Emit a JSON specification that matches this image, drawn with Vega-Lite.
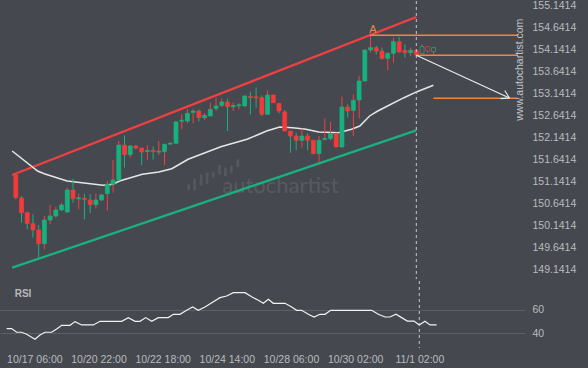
{
  "$schema": "https://vega.github.io/schema/vega-lite/v6.json",
  "background": "#45484e",
  "padding": {"left": 0, "top": 0, "right": 20, "bottom": 20},
  "spacing": 0,
  "config": {
    "view": {"stroke": null},
    "font": "Liberation Sans",
    "axis": {"labelColor": "#b9bcbf", "labelFont": "Liberation Sans", "labelFontSize": 10.5, "domain": false, "ticks": false, "labelOverlap": false}
  },
  "datasets": {
    "candles": [
      {"i":0,"o":151.288,"h":151.303,"l":150.734,"c":150.772,"k":"d"},
      {"i":1,"o":150.764,"h":150.810,"l":150.203,"c":150.430,"k":"d"},
      {"i":2,"o":150.430,"h":150.453,"l":150.051,"c":150.180,"k":"d"},
      {"i":3,"o":150.180,"h":150.392,"l":149.861,"c":150.036,"k":"d"},
      {"i":4,"o":150.036,"h":150.149,"l":149.406,"c":149.725,"k":"d"},
      {"i":5,"o":149.725,"h":150.354,"l":149.596,"c":150.263,"k":"u"},
      {"i":6,"o":150.263,"h":150.605,"l":150.165,"c":150.354,"k":"u"},
      {"i":7,"o":150.354,"h":150.559,"l":150.316,"c":150.491,"k":"u"},
      {"i":8,"o":150.491,"h":150.658,"l":150.468,"c":150.605,"k":"u"},
      {"i":9,"o":150.445,"h":150.999,"l":150.430,"c":150.946,"k":"u"},
      {"i":10,"o":150.946,"h":151.204,"l":150.658,"c":150.749,"k":"d"},
      {"i":11,"o":150.745,"h":150.863,"l":150.506,"c":150.768,"k":"u"},
      {"i":12,"o":150.756,"h":150.863,"l":150.278,"c":150.726,"k":"d"},
      {"i":13,"o":150.719,"h":150.848,"l":150.415,"c":150.612,"k":"d"},
      {"i":14,"o":150.612,"h":150.863,"l":150.529,"c":150.719,"k":"u"},
      {"i":15,"o":150.719,"h":150.863,"l":150.696,"c":150.832,"k":"u"},
      {"i":16,"o":150.863,"h":151.151,"l":150.483,"c":151.075,"k":"u"},
      {"i":17,"o":151.075,"h":151.629,"l":150.885,"c":151.174,"k":"u"},
      {"i":18,"o":151.174,"h":152.062,"l":151.151,"c":151.970,"k":"u"},
      {"i":19,"o":151.970,"h":152.191,"l":151.455,"c":151.750,"k":"d"},
      {"i":20,"o":151.750,"h":151.970,"l":151.682,"c":151.948,"k":"u"},
      {"i":21,"o":151.948,"h":151.970,"l":151.872,"c":151.902,"k":"d"},
      {"i":22,"o":151.902,"h":151.902,"l":151.508,"c":151.811,"k":"d"},
      {"i":23,"o":151.822,"h":151.970,"l":151.637,"c":151.846,"k":"u"},
      {"i":24,"o":151.849,"h":151.933,"l":151.637,"c":151.819,"k":"d"},
      {"i":25,"o":151.808,"h":152.062,"l":151.743,"c":151.830,"k":"u"},
      {"i":26,"o":151.819,"h":152.001,"l":151.508,"c":151.986,"k":"u"},
      {"i":27,"o":151.990,"h":152.031,"l":151.986,"c":152.012,"k":"u"},
      {"i":28,"o":152.008,"h":152.517,"l":152.008,"c":152.494,"k":"u"},
      {"i":29,"o":152.512,"h":152.669,"l":152.327,"c":152.535,"k":"u"},
      {"i":30,"o":152.517,"h":152.782,"l":152.464,"c":152.691,"k":"u"},
      {"i":31,"o":152.714,"h":152.782,"l":152.464,"c":152.744,"k":"u"},
      {"i":32,"o":152.744,"h":152.782,"l":152.502,"c":152.593,"k":"d"},
      {"i":33,"o":152.593,"h":152.691,"l":152.540,"c":152.646,"k":"u"},
      {"i":34,"o":152.631,"h":152.934,"l":152.631,"c":152.782,"k":"u"},
      {"i":35,"o":152.805,"h":153.048,"l":152.744,"c":152.858,"k":"u"},
      {"i":36,"o":152.873,"h":153.033,"l":152.836,"c":152.949,"k":"u"},
      {"i":37,"o":152.949,"h":153.025,"l":152.289,"c":152.843,"k":"d"},
      {"i":38,"o":152.843,"h":152.934,"l":152.744,"c":152.873,"k":"u"},
      {"i":39,"o":152.862,"h":152.919,"l":152.782,"c":152.885,"k":"u"},
      {"i":40,"o":152.858,"h":153.101,"l":152.836,"c":153.086,"k":"u"},
      {"i":41,"o":153.075,"h":153.185,"l":152.669,"c":153.052,"k":"d"},
      {"i":42,"o":153.067,"h":153.276,"l":152.820,"c":153.044,"k":"d"},
      {"i":43,"o":153.048,"h":153.101,"l":152.631,"c":152.669,"k":"d"},
      {"i":44,"o":152.669,"h":153.215,"l":152.653,"c":153.109,"k":"u"},
      {"i":45,"o":153.109,"h":153.115,"l":152.925,"c":152.934,"k":"d"},
      {"i":46,"o":152.919,"h":152.919,"l":152.691,"c":152.744,"k":"d"},
      {"i":47,"o":152.722,"h":152.767,"l":152.289,"c":152.289,"k":"d"},
      {"i":48,"o":152.289,"h":152.289,"l":151.796,"c":152.175,"k":"d"},
      {"i":49,"o":152.175,"h":152.251,"l":151.849,"c":152.077,"k":"d"},
      {"i":50,"o":152.077,"h":152.342,"l":151.910,"c":152.175,"k":"u"},
      {"i":51,"o":152.175,"h":152.236,"l":151.849,"c":152.077,"k":"d"},
      {"i":52,"o":152.077,"h":152.077,"l":151.758,"c":151.773,"k":"d"},
      {"i":53,"o":151.773,"h":152.175,"l":151.568,"c":152.077,"k":"u"},
      {"i":54,"o":152.096,"h":152.570,"l":152.077,"c":152.118,"k":"u"},
      {"i":55,"o":152.115,"h":152.494,"l":152.077,"c":152.229,"k":"u"},
      {"i":56,"o":152.229,"h":152.251,"l":151.925,"c":151.925,"k":"d"},
      {"i":57,"o":151.925,"h":153.071,"l":151.910,"c":152.836,"k":"u"},
      {"i":58,"o":152.836,"h":152.896,"l":152.593,"c":152.744,"k":"d"},
      {"i":59,"o":152.760,"h":153.124,"l":152.175,"c":152.987,"k":"u"},
      {"i":60,"o":152.995,"h":153.541,"l":152.578,"c":153.427,"k":"u"},
      {"i":61,"o":153.427,"h":154.140,"l":153.420,"c":154.133,"k":"u"},
      {"i":62,"o":154.133,"h":154.467,"l":154.072,"c":154.186,"k":"u"},
      {"i":63,"o":154.186,"h":154.224,"l":154.034,"c":154.110,"k":"d"},
      {"i":64,"o":154.110,"h":154.186,"l":153.921,"c":153.936,"k":"d"},
      {"i":65,"o":153.943,"h":154.072,"l":153.670,"c":154.057,"k":"u"},
      {"i":66,"o":154.057,"h":154.414,"l":153.845,"c":154.323,"k":"u"},
      {"i":67,"o":154.323,"h":154.429,"l":154.072,"c":154.088,"k":"d"},
      {"i":68,"o":154.125,"h":154.262,"l":153.959,"c":154.072,"k":"d"},
      {"i":69,"o":154.072,"h":154.186,"l":153.996,"c":154.125,"k":"u"},
      {"i":70,"o":154.125,"h":154.125,"l":153.996,"c":154.019,"k":"d"},
      {"i":71,"o":154.057,"h":154.262,"l":154.057,"c":154.209,"k":"uh"},
      {"i":72,"o":154.209,"h":154.224,"l":154.072,"c":154.110,"k":"dh"},
      {"i":73,"o":154.095,"h":154.201,"l":154.034,"c":154.186,"k":"uh"}
    ],
    "logo": [
      {"i":30.23,"a":150.946,"b":151.076},{"i":31.25,"a":150.946,"b":151.203},{"i":32.4,"a":151.037,"b":151.303},
      {"i":33.43,"a":151.089,"b":151.34},{"i":34.51,"a":151.226,"b":151.362},{"i":35.61,"a":151.303,"b":151.515},
      {"i":36.64,"a":151.264,"b":151.454},{"i":37.67,"a":151.339,"b":151.492},{"i":38.8,"a":151.469,"b":151.645}
    ],
    "ma": [
      {"i":-0.63,"p":151.834},{"i":3.82,"p":151.379},{"i":4.97,"p":151.317},{"i":8.97,"p":151.151},
      {"i":15.26,"p":151.053},{"i":16.97,"p":151.076},{"i":18.12,"p":151.151},{"i":22.12,"p":151.303},
      {"i":24.98,"p":151.356},{"i":27.26,"p":151.431},{"i":30.12,"p":151.645},{"i":32.4,"p":151.759},
      {"i":35.83,"p":151.932},{"i":40.41,"p":152.1},{"i":43.84,"p":152.289},{"i":46.12,"p":152.38},
      {"i":48.4,"p":152.364},{"i":50.7,"p":152.328},{"i":52.97,"p":152.266},{"i":56.4,"p":152.25},
      {"i":58.68,"p":152.328},{"i":60.12,"p":152.403},{"i":61.84,"p":152.631},{"i":63.26,"p":152.744},
      {"i":64.97,"p":152.858},{"i":67.84,"p":153.047},{"i":70.12,"p":153.184},{"i":72.98,"p":153.329}
    ],
    "rsi": [
      {"i":-0.74,"v":44.0},{"i":0.11,"v":44.0},{"i":0.97,"v":40.9},{"i":1.83,"v":40.9},{"i":2.69,"v":39.2},
      {"i":4.11,"v":35.0},{"i":4.97,"v":38.6},{"i":5.83,"v":40.9},{"i":6.97,"v":40.9},{"i":7.83,"v":43.7},
      {"i":8.69,"v":46.8},{"i":10.11,"v":46.8},{"i":10.97,"v":49.9},{"i":12.11,"v":47.1},{"i":14.11,"v":47.1},
      {"i":15.26,"v":50.2},{"i":18.97,"v":50.2},{"i":20.11,"v":53.3},{"i":21.26,"v":50.2},{"i":22.11,"v":50.2},
      {"i":23.09,"v":53.3},{"i":24.12,"v":50.2},{"i":25.26,"v":53.3},{"i":26.97,"v":53.3},{"i":27.83,"v":56.1},
      {"i":28.97,"v":56.1},{"i":30.11,"v":59.5},{"i":31.14,"v":62.3},{"i":32.11,"v":59.5},{"i":33.26,"v":62.3},
      {"i":34.69,"v":66.8},{"i":35.83,"v":70.2},{"i":36.97,"v":71.6},{"i":38.11,"v":74.4},{"i":40.12,"v":74.4},
      {"i":41.26,"v":71.0},{"i":42.4,"v":67.9},{"i":43.26,"v":65.4},{"i":44.12,"v":68.8},{"i":44.97,"v":65.4},
      {"i":46.97,"v":65.4},{"i":48.12,"v":62.3},{"i":48.97,"v":59.5},{"i":49.83,"v":59.5},{"i":50.97,"v":56.1},
      {"i":51.95,"v":53.8},{"i":52.97,"v":56.1},{"i":53.83,"v":56.1},{"i":54.8,"v":59.5},{"i":61.83,"v":59.5},
      {"i":62.97,"v":56.1},{"i":64.12,"v":53.8},{"i":64.97,"v":53.8},{"i":66.0,"v":56.1},{"i":66.97,"v":53.3},
      {"i":67.95,"v":50.4},{"i":69.09,"v":50.4},{"i":70.0,"v":47.1},{"i":70.97,"v":50.2},{"i":71.83,"v":47.1},
      {"i":72.97,"v":47.1}
    ]
  },
  "vconcat": [
    {
      "width": 525,
      "height": 278,
      "layer": [
        {
          "data": {"values": [{"i": 46.25, "p": 151.03, "t": "autochartist"}]},
          "mark": {"type": "text", "font": "Lato", "fontSize": 22, "color": "#575b60", "align": "center", "baseline": "middle"},
          "encoding": {
            "x": {"field": "i", "type": "quantitative", "scale": {"domain": [-1.886, 88.12], "nice": false, "zero": false}, "axis": null},
            "y": {"field": "p", "type": "quantitative", "scale": {"domain": [148.92, 155.2484], "nice": false, "zero": false},
                  "axis": {"orient": "right", "values": [149.1414, 149.6414, 150.1414, 150.6414, 151.1414, 151.6414, 152.1414, 152.6414, 153.1414, 153.6414, 154.1414, 154.6414, 155.1414], "format": ".4f", "grid": false, "labelPadding": 7, "labelAlign": "left", "title": null}},
            "text": {"field": "t"}
          }
        },
        {
          "data": {"name": "logo"},
          "mark": {"type": "bar", "width": 2.7, "color": "#55595e"},
          "encoding": {
            "x": {"field": "i", "type": "quantitative", "scale": {"domain": [-1.886, 88.12], "nice": false, "zero": false}, "axis": null},
            "y": {"field": "a", "type": "quantitative", "scale": {"domain": [148.92, 155.2484], "nice": false, "zero": false},
                  "axis": {"orient": "right", "values": [149.1414, 149.6414, 150.1414, 150.6414, 151.1414, 151.6414, 152.1414, 152.6414, 153.1414, 153.6414, 154.1414, 154.6414, 155.1414], "format": ".4f", "grid": false, "labelPadding": 7, "labelAlign": "left", "title": null}},
            "y2": {"field": "b"}
          }
        },
        {
          "data": {"values": [
            {"s": "up", "i": -0.63, "p": 151.287}, {"s": "up", "i": 70, "p": 154.884},
            {"s": "lo", "i": -0.63, "p": 149.177}, {"s": "lo", "i": 70, "p": 152.305}
          ]},
          "mark": {"type": "line", "strokeWidth": 2.3},
          "encoding": {
            "x": {"field": "i", "type": "quantitative", "scale": {"domain": [-1.886, 88.12], "nice": false, "zero": false}, "axis": null},
            "y": {"field": "p", "type": "quantitative", "scale": {"domain": [148.92, 155.2484], "nice": false, "zero": false},
                  "axis": {"orient": "right", "values": [149.1414, 149.6414, 150.1414, 150.6414, 151.1414, 151.6414, 152.1414, 152.6414, 153.1414, 153.6414, 154.1414, 154.6414, 155.1414], "format": ".4f", "grid": false, "labelPadding": 7, "labelAlign": "left", "title": null}},
            "color": {"field": "s", "type": "nominal", "scale": {"domain": ["up", "lo"], "range": ["#f24040", "#1ab181"]}, "legend": null}
          }
        },
        {
          "data": {"name": "ma"},
          "mark": {"type": "line", "strokeWidth": 1.5, "color": "#e6e6e6"},
          "encoding": {
            "x": {"field": "i", "type": "quantitative", "scale": {"domain": [-1.886, 88.12], "nice": false, "zero": false}, "axis": null},
            "y": {"field": "p", "type": "quantitative", "scale": {"domain": [148.92, 155.2484], "nice": false, "zero": false},
                  "axis": {"orient": "right", "values": [149.1414, 149.6414, 150.1414, 150.6414, 151.1414, 151.6414, 152.1414, 152.6414, 153.1414, 153.6414, 154.1414, 154.6414, 155.1414], "format": ".4f", "grid": false, "labelPadding": 7, "labelAlign": "left", "title": null}}
          }
        },
        {
          "data": {"name": "candles"},
          "mark": {"type": "rule", "strokeWidth": 1},
          "encoding": {
            "x": {"field": "i", "type": "quantitative", "scale": {"domain": [-1.886, 88.12], "nice": false, "zero": false}, "axis": null},
            "y": {"field": "l", "type": "quantitative", "scale": {"domain": [148.92, 155.2484], "nice": false, "zero": false},
                  "axis": {"orient": "right", "values": [149.1414, 149.6414, 150.1414, 150.6414, 151.1414, 151.6414, 152.1414, 152.6414, 153.1414, 153.6414, 154.1414, 154.6414, 155.1414], "format": ".4f", "grid": false, "labelPadding": 7, "labelAlign": "left", "title": null}},
            "y2": {"field": "h"},
            "color": {"field": "k", "type": "nominal", "scale": {"domain": ["u", "d", "uh", "dh"], "range": ["#17b17f", "#f23b3b", "#17b17f", "#f23b3b"]}, "legend": null}
          }
        },
        {
          "data": {"name": "candles"},
          "mark": {"type": "bar", "width": 4},
          "encoding": {
            "x": {"field": "i", "type": "quantitative", "scale": {"domain": [-1.886, 88.12], "nice": false, "zero": false}, "axis": null},
            "y": {"field": "o", "type": "quantitative", "scale": {"domain": [148.92, 155.2484], "nice": false, "zero": false},
                  "axis": {"orient": "right", "values": [149.1414, 149.6414, 150.1414, 150.6414, 151.1414, 151.6414, 152.1414, 152.6414, 153.1414, 153.6414, 154.1414, 154.6414, 155.1414], "format": ".4f", "grid": false, "labelPadding": 7, "labelAlign": "left", "title": null}},
            "y2": {"field": "c"},
            "fill": {"field": "k", "type": "nominal", "scale": {"domain": ["u", "d", "uh", "dh"], "range": ["#17b17f", "#f23b3b", "#45484e", "#45484e"]}, "legend": null},
            "stroke": {"field": "k", "type": "nominal", "scale": {"domain": ["u", "d", "uh", "dh"], "range": ["#17b17f", "#f23b3b", "#17b17f", "#f23b3b"]}, "legend": null},
            "strokeWidth": {"field": "k", "type": "nominal", "scale": {"domain": ["u", "d", "uh", "dh"], "range": [0.7, 0.7, 1.3, 1.3]}, "legend": null}
          }
        },
        {
          "data": {"values": [
            {"i": 61.84, "i2": 87.73, "p": 154.468},
            {"i": 70, "i2": 87.73, "p": 154.012},
            {"i": 72.98, "i2": 87.73, "p": 153.033}
          ]},
          "mark": {"type": "rule", "color": "#f5843f", "strokeWidth": 1.4},
          "encoding": {
            "x": {"field": "i", "type": "quantitative", "scale": {"domain": [-1.886, 88.12], "nice": false, "zero": false}, "axis": null},
            "x2": {"field": "i2"},
            "y": {"field": "p", "type": "quantitative", "scale": {"domain": [148.92, 155.2484], "nice": false, "zero": false},
                  "axis": {"orient": "right", "values": [149.1414, 149.6414, 150.1414, 150.6414, 151.1414, 151.6414, 152.1414, 152.6414, 153.1414, 153.6414, 154.1414, 154.6414, 155.1414], "format": ".4f", "grid": false, "labelPadding": 7, "labelAlign": "left", "title": null}}
          }
        },
        {
          "data": {"values": [{"i": 70}]},
          "mark": {"type": "rule", "color": "#c8c8c8", "strokeWidth": 1, "strokeDash": [3, 3]},
          "encoding": {
            "x": {"field": "i", "type": "quantitative", "scale": {"domain": [-1.886, 88.12], "nice": false, "zero": false}, "axis": null}
          }
        },
        {
          "data": {"values": [
            {"i": 70, "p": 154.012, "i2": 86.28, "p2": 153.04},
            {"i": 86.28, "p": 153.04, "i2": 85.46, "p2": 153.211},
            {"i": 86.28, "p": 153.04, "i2": 84.74, "p2": 153.027}
          ]},
          "mark": {"type": "rule", "color": "#eeeeee", "strokeWidth": 1.1},
          "encoding": {
            "x": {"field": "i", "type": "quantitative", "scale": {"domain": [-1.886, 88.12], "nice": false, "zero": false}, "axis": null},
            "x2": {"field": "i2"},
            "y": {"field": "p", "type": "quantitative", "scale": {"domain": [148.92, 155.2484], "nice": false, "zero": false},
                  "axis": {"orient": "right", "values": [149.1414, 149.6414, 150.1414, 150.6414, 151.1414, 151.6414, 152.1414, 152.6414, 153.1414, 153.6414, 154.1414, 154.6414, 155.1414], "format": ".4f", "grid": false, "labelPadding": 7, "labelAlign": "left", "title": null}},
            "y2": {"field": "p2"}
          }
        },
        {
          "data": {"values": [{"i": 62.4, "p": 154.588, "t": "A"}]},
          "mark": {"type": "text", "fontSize": 11, "color": "#ee8a45", "align": "center", "baseline": "middle"},
          "encoding": {
            "x": {"field": "i", "type": "quantitative", "scale": {"domain": [-1.886, 88.12], "nice": false, "zero": false}, "axis": null},
            "y": {"field": "p", "type": "quantitative", "scale": {"domain": [148.92, 155.2484], "nice": false, "zero": false},
                  "axis": {"orient": "right", "values": [149.1414, 149.6414, 150.1414, 150.6414, 151.1414, 151.6414, 152.1414, 152.6414, 153.1414, 153.6414, 154.1414, 154.6414, 155.1414], "format": ".4f", "grid": false, "labelPadding": 7, "labelAlign": "left", "title": null}},
            "text": {"field": "t"}
          }
        },
        {
          "data": {"values": [{"i": 88.12, "p": 153.684, "t": "www.autochartist.com"}]},
          "mark": {"type": "text", "fontSize": 10.5, "color": "#c2c5c9", "align": "center", "baseline": "middle", "angle": 270},
          "encoding": {
            "x": {"field": "i", "type": "quantitative", "scale": {"domain": [-1.886, 88.12], "nice": false, "zero": false}, "axis": null},
            "y": {"field": "p", "type": "quantitative", "scale": {"domain": [148.92, 155.2484], "nice": false, "zero": false},
                  "axis": {"orient": "right", "values": [149.1414, 149.6414, 150.1414, 150.6414, 151.1414, 151.6414, 152.1414, 152.6414, 153.1414, 153.6414, 154.1414, 154.6414, 155.1414], "format": ".4f", "grid": false, "labelPadding": 7, "labelAlign": "left", "title": null}},
            "text": {"field": "t"}
          }
        }
      ]
    },
    {
      "width": 525,
      "height": 67,
      "layer": [
        {
          "data": {"values": [{"i": 0.63, "v": 73.0, "t": "RSI"}]},
          "mark": {"type": "text", "fontSize": 10, "fontWeight": "bold", "color": "#b5b9bd", "align": "left", "baseline": "middle"},
          "encoding": {
            "x": {"field": "i", "type": "quantitative", "scale": {"domain": [-1.886, 88.12], "nice": false, "zero": false},
                  "axis": {"orient": "bottom", "values": [4, 15, 26, 37, 48, 59, 70], "grid": false, "labelPadding": 6, "title": null,
                           "labelExpr": "datum.value == 4 ? '10/17 06:00' : datum.value == 15 ? '10/20 22:00' : datum.value == 26 ? '10/22 18:00' : datum.value == 37 ? '10/24 14:00' : datum.value == 48 ? '10/28 06:00' : datum.value == 59 ? '10/30 02:00' : '11/1 02:00'"}},
            "y": {"field": "v", "type": "quantitative", "scale": {"domain": [27.6, 84.26], "nice": false, "zero": false},
                  "axis": {"orient": "right", "values": [40, 60], "grid": true, "gridColor": "#5d6167", "gridWidth": 1, "labelPadding": 7, "labelAlign": "left", "title": null}},
            "text": {"field": "t"}
          }
        },
        {
          "data": {"name": "rsi"},
          "mark": {"type": "line", "strokeWidth": 1.2, "color": "#f2f2f2"},
          "encoding": {
            "x": {"field": "i", "type": "quantitative", "scale": {"domain": [-1.886, 88.12], "nice": false, "zero": false},
                  "axis": {"orient": "bottom", "values": [4, 15, 26, 37, 48, 59, 70], "grid": false, "labelPadding": 6, "title": null,
                           "labelExpr": "datum.value == 4 ? '10/17 06:00' : datum.value == 15 ? '10/20 22:00' : datum.value == 26 ? '10/22 18:00' : datum.value == 37 ? '10/24 14:00' : datum.value == 48 ? '10/28 06:00' : datum.value == 59 ? '10/30 02:00' : '11/1 02:00'"}},
            "y": {"field": "v", "type": "quantitative", "scale": {"domain": [27.6, 84.26], "nice": false, "zero": false},
                  "axis": {"orient": "right", "values": [40, 60], "grid": true, "gridColor": "#5d6167", "gridWidth": 1, "labelPadding": 7, "labelAlign": "left", "title": null}}
          }
        },
        {
          "data": {"values": [{"i": 70}]},
          "mark": {"type": "rule", "color": "#c8c8c8", "strokeWidth": 1, "strokeDash": [3, 3]},
          "encoding": {
            "x": {"field": "i", "type": "quantitative", "scale": {"domain": [-1.886, 88.12], "nice": false, "zero": false},
                  "axis": {"orient": "bottom", "values": [4, 15, 26, 37, 48, 59, 70], "grid": false, "labelPadding": 6, "title": null,
                           "labelExpr": "datum.value == 4 ? '10/17 06:00' : datum.value == 15 ? '10/20 22:00' : datum.value == 26 ? '10/22 18:00' : datum.value == 37 ? '10/24 14:00' : datum.value == 48 ? '10/28 06:00' : datum.value == 59 ? '10/30 02:00' : '11/1 02:00'"}}
          }
        }
      ]
    }
  ]
}
